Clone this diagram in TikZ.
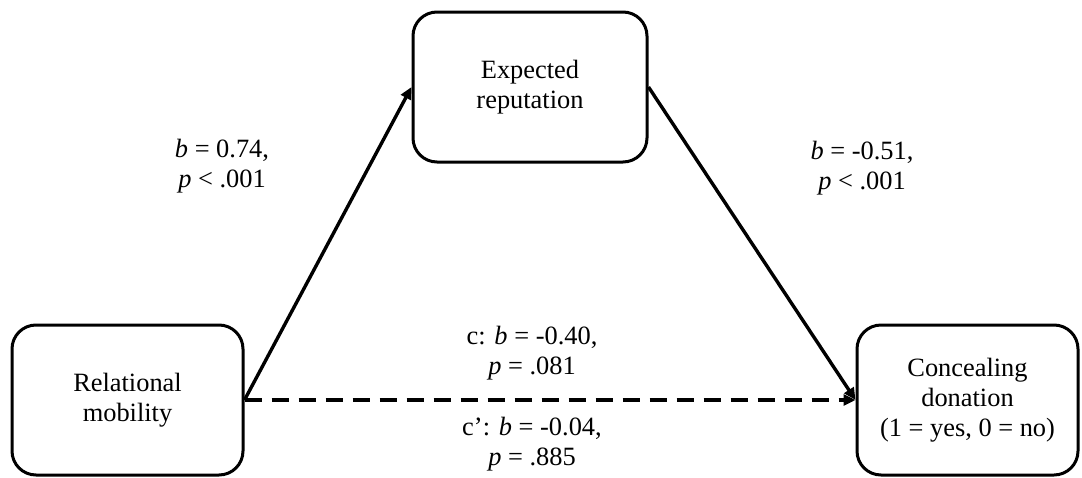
\documentclass[tikz,border=0pt]{standalone}
\usepackage{fontspec}
\setmainfont{Liberation Serif}
\usetikzlibrary{arrows.meta,positioning}
\definecolor{mdedge}{RGB}{0,0,0}
\tikzset{
  mdbox/.style={
    draw=mdedge, line width=1.5pt, rounded corners=12pt,
    align=center, inner sep=2pt, minimum height=75pt
  },
  arr/.style={-{Triangle[length=6pt,width=5.5pt]}, draw=mdedge, line width=1.7pt},
  darr/.style={arr, line width=2pt, dash pattern=on 8.5pt off 5pt},
  lab/.style={align=center, inner sep=0pt},
  every picture/.append style={font=\fontsize{13.2}{15}\selectfont, line join=round}
}
\begin{document}
\begin{tikzpicture}[x=0.5pt,y=-0.5pt]
  \useasboundingbox (0,0) rectangle (1082,477);
  \node[mdbox, minimum width=115.5pt] (rm) at (127.5,400) {Relational\\mobility};
  \node[mdbox, minimum width=117pt] (er) at (530,87) {Expected\\reputation};
  \node[mdbox, minimum width=110.5pt] (cd) at (967.5,400) {Concealing\\donation\\(1 = yes, 0 = no)};
  \draw[arr] (rm.east) -- (er.west);
  \draw[arr] (er.east) -- (cd.west);
  \draw[darr] (rm.east) -- (cd.west);
  \node[lab] (a) at (222,166) {\textit{b} = 0.74,\\\textit{p} < .001};
  \node[lab] (b) at (862,168) {\textit{b} = -0.51,\\\textit{p} < .001};
  \node[lab] (c) at (532,353) {c: \textit{b} = -0.40,\\\textit{p} = .081};
  \node[lab] (cp) at (532,444) {c’: \textit{b} = -0.04,\\\textit{p} = .885};
\end{tikzpicture}
\end{document}
